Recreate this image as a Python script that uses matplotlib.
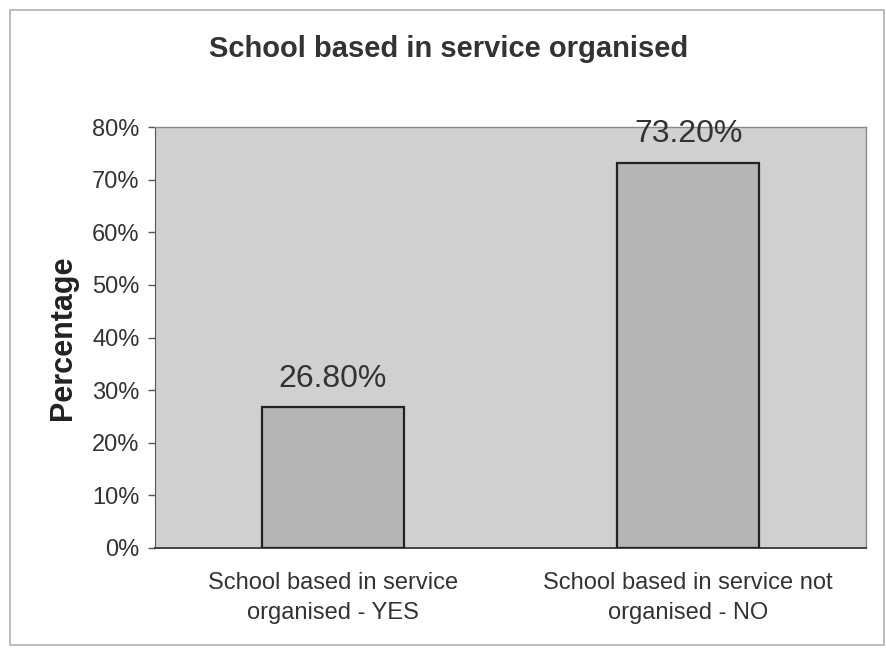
import matplotlib
matplotlib.use("Agg")
import matplotlib.pyplot as plt
from matplotlib.patches import Rectangle

categories = ["School based in service\norganised - YES", "School based in service not\norganised - NO"]
values = [26.8, 73.2]
value_labels = ["26.80%", "73.20%"]
yticks = [0, 10, 20, 30, 40, 50, 60, 70, 80]
ytick_labels = ["0%", "10%", "20%", "30%", "40%", "50%", "60%", "70%", "80%"]

plt.rcParams['font.family'] = ['Liberation Sans', 'DejaVu Sans']
W, H = 887, 649
fig = plt.figure(figsize=(W / 100, H / 100), dpi=100)
fig.patch.set_facecolor("white")

# outer frame
fig.add_artist(Rectangle((10 / W, 1 - 645 / H), 874 / W, 635 / H, transform=fig.transFigure,
                         fill=False, edgecolor="#b0b0b0", linewidth=1.2))

left, right, top, bottom = 155, 866, 127, 548
ax = fig.add_axes([left / W, 1 - bottom / H, (right - left) / W, (bottom - top) / H])
ax.set_facecolor("#d0d0d0")

x = [0, 1]
bars = ax.bar(x, values, width=0.40, color="#b5b5b5", edgecolor="#222222", linewidth=1.6, zorder=3)
for xi, v, lab in zip(x, values, value_labels):
    ax.text(xi, v + 5.4, lab, ha="center", va="center", fontsize=23, color="#333333")

ax.set_xlim(-0.5, 1.5)
ax.set_ylim(0, 80)
ax.set_yticks(yticks)
ax.set_yticklabels(ytick_labels, fontsize=17, color="#333333")
ax.set_xticks(x)
ax.set_xticklabels(categories, fontsize=17, color="#333333", linespacing=1.5)
ax.tick_params(axis="y", length=5, width=1, color="#555555", direction="out", pad=6)
ax.tick_params(axis="x", length=0, pad=17)

for s in ["top", "right"]:
    ax.spines[s].set_color("#8a8a8a")
    ax.spines[s].set_linewidth(1.0)
ax.spines["left"].set_color("#555555")
ax.spines["bottom"].set_color("#444444")
ax.spines["bottom"].set_linewidth(1.4)

ax.set_ylabel("Percentage", fontsize=22, fontweight="bold", color="#222222", labelpad=10)

fig.text((W / 2 + 5) / W, 1 - 49 / H, "School based in service organised", ha="center", va="center",
         fontsize=21, fontweight="bold", color="#333333")

fig.savefig("out.png", dpi=100)
